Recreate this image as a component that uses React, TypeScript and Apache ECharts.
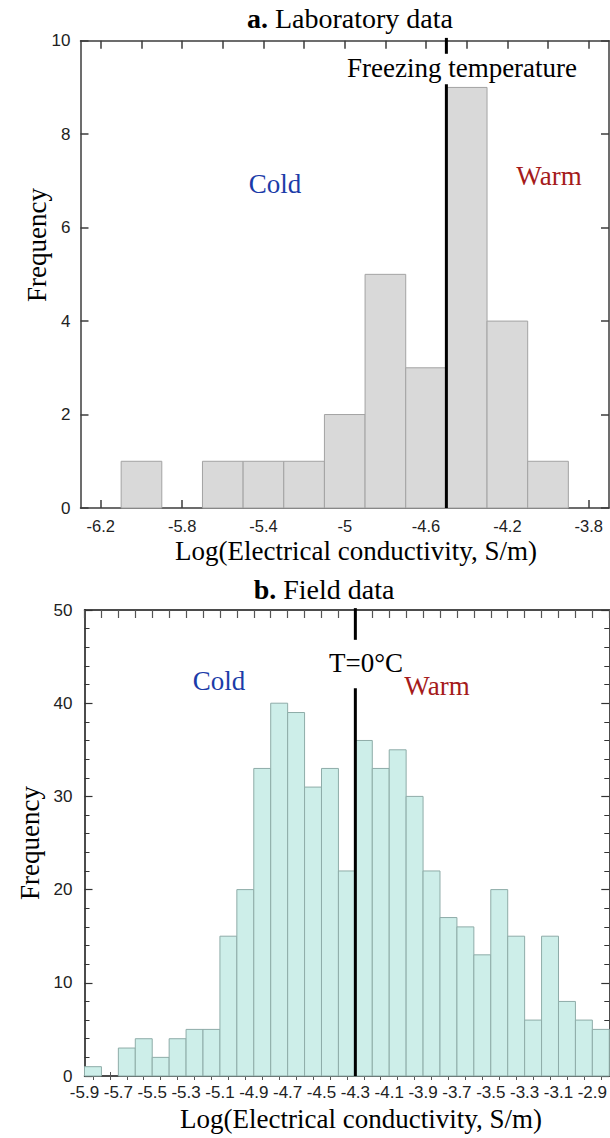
import React, { useEffect, useRef } from "react";
import * as echarts from "echarts";

// ---------- Panel a: laboratory data ----------
const LAB_EDGES = [-6.1, -5.9, -5.7, -5.5, -5.3, -5.1, -4.9, -4.7, -4.5, -4.3, -4.1, -3.9];
const LAB_COUNTS = [1, 0, 1, 1, 1, 2, 5, 3, 9, 4, 1];
const LAB_X_LABELS = [-6.2, -5.8, -5.4, -5, -4.6, -4.2, -3.8];
const LAB_X_TICKS = [-6.2, -6.0, -5.8, -5.6, -5.4, -5.2, -5.0, -4.8, -4.6, -4.4, -4.2, -4.0, -3.8];
const LAB_Y_TICKS = [0, 2, 4, 6, 8, 10];
const LAB_FREEZE = -4.5;

// ---------- Panel b: field data ----------
const FIELD_EDGES = [
  -5.9, -5.8, -5.7, -5.6, -5.5, -5.4, -5.3, -5.2, -5.1, -5.0, -4.9, -4.8, -4.7, -4.6, -4.5, -4.4,
  -4.3, -4.2, -4.1, -4.0, -3.9, -3.8, -3.7, -3.6, -3.5, -3.4, -3.3, -3.2, -3.1, -3.0, -2.9, -2.8,
];
const FIELD_COUNTS = [
  1, 0, 3, 4, 2, 4, 5, 5, 15, 20, 33, 40, 39, 31, 33, 22,
  36, 33, 35, 30, 22, 17, 16, 13, 20, 15, 6, 15, 8, 6, 5,
];
const FIELD_X_LABELS = [-5.9, -5.7, -5.5, -5.3, -5.1, -4.9, -4.7, -4.5, -4.3, -4.1, -3.9, -3.7, -3.5, -3.3, -3.1, -2.9];
const FIELD_Y_TICKS = [0, 10, 20, 30, 40, 50];
const FIELD_FREEZE = -4.3;

const SERIF = "'Liberation Serif', 'Times New Roman', serif";
const SANS = "'Liberation Sans', Arial, sans-serif";

const binCenters = (edges: number[]) =>
  edges.slice(0, -1).map((e, i) => Math.round(((e + edges[i + 1]) / 2) * 1000) / 1000);

const histData = (edges: number[], counts: number[]) =>
  counts.map((c, i) => [edges[i], edges[i + 1], c]);

function histSeries(gridIdx: number, edges: number[], counts: number[], fill: string, stroke: string) {
  return {
    type: "custom",
    xAxisIndex: gridIdx,
    yAxisIndex: gridIdx,
    data: histData(edges, counts),
    encode: { x: [0, 1], y: 2 },
    renderItem: (params: any, api: any) => {
      const x0 = api.value(0);
      const x1 = api.value(1);
      const v = api.value(2);
      if (!v) return null;
      const p0 = api.coord([x0, v]);
      const p1 = api.coord([x1, 0]);
      return {
        type: "rect",
        shape: { x: p0[0], y: p0[1], width: p1[0] - p0[0], height: p1[1] - p0[1] },
        style: { fill, stroke, lineWidth: 1 },
      };
    },
    z: 2,
  };
}

function lineSeries(gridIdx: number, segs: number[][]) {
  return {
    type: "custom",
    xAxisIndex: gridIdx,
    yAxisIndex: gridIdx,
    data: segs,
    encode: { x: 0, y: [1, 2] },
    renderItem: (params: any, api: any) => {
      const p0 = api.coord([api.value(0), api.value(1)]);
      const p1 = api.coord([api.value(0), api.value(2)]);
      return {
        type: "line",
        shape: { x1: p0[0], y1: p0[1], x2: p1[0], y2: p1[1] },
        style: { stroke: "#000", lineWidth: 3 },
      };
    },
    z: 5,
  };
}

function txt(x: number, y: number, text: string, size: number, fill: string, extra: any = {}) {
  return {
    type: "text",
    x,
    y,
    ...extra,
    style: {
      text,
      x: 0,
      y: 0,
      align: "center",
      verticalAlign: "middle",
      fontFamily: SERIF,
      fontSize: size,
      fill,
      ...(extra.style || {}),
    },
  };
}

export default function App() {
  const ref = useRef<HTMLDivElement>(null);

  useEffect(() => {
    if (!ref.current) return;
    const chart = echarts.init(ref.current, null, { renderer: "svg" });
    const axisColor = "#3c3c3c";
    const labFieldCenters = binCenters(FIELD_EDGES);

    const option: any = {
      animation: false,
      backgroundColor: "#fff",
      grid: [
        { left: 80.5, top: 40.7, width: 528.5, height: 467.3 },
        { left: 84.5, top: 610, width: 527, height: 466 },
      ],
      xAxis: [
        {
          gridIndex: 0,
          type: "value",
          min: -6.3,
          max: -3.7,
          position: "bottom",
          splitLine: { show: false },
          axisLine: { onZero: false, lineStyle: { color: axisColor, width: 1.5 } },
          axisTick: { inside: true, length: 8, customValues: LAB_X_TICKS, lineStyle: { color: axisColor, width: 1.5 } },
          axisLabel: { customValues: LAB_X_LABELS, margin: 9, fontFamily: SANS, fontSize: 16.5, color: "#222" },
        },
        {
          gridIndex: 1,
          type: "value",
          min: -5.9,
          max: -2.8,
          position: "bottom",
          splitLine: { show: false },
          axisLine: { onZero: false, lineStyle: { color: "#111", width: 1.5 } },
          axisTick: { inside: true, length: 4, customValues: labFieldCenters, lineStyle: { color: "#555", width: 1 } },
          axisLabel: { customValues: FIELD_X_LABELS, margin: 8, fontFamily: SANS, fontSize: 17, color: "#222" },
        },
        {
          gridIndex: 0,
          type: "value",
          min: -6.3,
          max: -3.7,
          position: "top",
          splitLine: { show: false },
          axisLine: { onZero: false, lineStyle: { color: axisColor, width: 1.5 } },
          axisTick: { inside: true, length: 8, customValues: LAB_X_TICKS, lineStyle: { color: axisColor, width: 1.5 } },
          axisLabel: { show: false },
        },
        {
          gridIndex: 1,
          type: "value",
          min: -5.9,
          max: -2.8,
          position: "top",
          splitLine: { show: false },
          axisLine: { onZero: false, lineStyle: { color: "#111", width: 1.5 } },
          axisTick: { inside: true, length: 8, customValues: FIELD_EDGES, lineStyle: { color: "#555", width: 1.2 } },
          axisLabel: { show: false },
        },
        {
          gridIndex: 1,
          type: "value",
          min: -5.9,
          max: -2.8,
          position: "top",
          splitLine: { show: false },
          axisLine: { show: false },
          axisTick: { inside: true, length: 4, customValues: labFieldCenters, lineStyle: { color: "#555", width: 1 } },
          axisLabel: { show: false },
        },
      ],
      yAxis: [
        {
          gridIndex: 0,
          type: "value",
          min: 0,
          max: 10,
          interval: 2,
          position: "left",
          splitLine: { show: false },
          axisLine: { show: true, onZero: false, lineStyle: { color: axisColor, width: 1.5 } },
          axisTick: { show: true, inside: true, length: 8, lineStyle: { color: axisColor, width: 1.5 } },
          axisLabel: { margin: 10, fontFamily: SANS, fontSize: 17, color: "#222", customValues: LAB_Y_TICKS },
        },
        {
          gridIndex: 1,
          type: "value",
          min: 0,
          max: 50,
          interval: 10,
          position: "left",
          splitLine: { show: false },
          axisLine: { show: true, onZero: false, lineStyle: { color: "#111", width: 1.5 } },
          axisTick: { show: true, inside: true, length: 8, lineStyle: { color: "#333", width: 1.2 } },
          minorTick: { show: true, splitNumber: 5, length: 5, lineStyle: { color: "#333", width: 1 } },
          axisLabel: { margin: 12, fontFamily: SANS, fontSize: 17, color: "#222", customValues: FIELD_Y_TICKS },
        },
        {
          gridIndex: 0,
          type: "value",
          min: 0,
          max: 10,
          interval: 2,
          position: "right",
          splitLine: { show: false },
          axisLine: { show: true, onZero: false, lineStyle: { color: axisColor, width: 1.5 } },
          axisTick: { show: true, inside: true, length: 8, lineStyle: { color: axisColor, width: 1.5 } },
          axisLabel: { show: false },
        },
        {
          gridIndex: 1,
          type: "value",
          min: 0,
          max: 50,
          interval: 10,
          position: "right",
          splitLine: { show: false },
          axisLine: { show: true, onZero: false, lineStyle: { color: "#111", width: 1.5 } },
          axisTick: { show: true, inside: true, length: 8, lineStyle: { color: "#333", width: 1.2 } },
          minorTick: { show: true, splitNumber: 5, length: 5, lineStyle: { color: "#333", width: 1 } },
          axisLabel: { show: false },
        },
      ],
      series: [
        histSeries(0, LAB_EDGES, LAB_COUNTS, "#d9d9d9", "#a3a3a3"),
        histSeries(1, FIELD_EDGES, FIELD_COUNTS, "#cdeee9", "#8eaca8"),
        lineSeries(0, [
          [LAB_FREEZE, 0, 9.07],
          [LAB_FREEZE, 9.72, 10.06],
        ]),
        lineSeries(1, [
          [FIELD_FREEZE, 0, 41.6],
          [FIELD_FREEZE, 46.8, 50.2],
        ]),
      ],
      graphic: [
        txt(350, 18, "{b|a.} Laboratory data", 28, "#000", {
          style: { rich: { b: { fontFamily: SERIF, fontSize: 28, fontWeight: "bold", fill: "#000" } } },
        }),
        txt(324, 589, "{b|b.} Field data", 28, "#000", {
          style: { rich: { b: { fontFamily: SERIF, fontSize: 28, fontWeight: "bold", fill: "#000" } } },
        }),
        txt(462, 68, "Freezing temperature", 27, "#000"),
        txt(275, 184, "Cold", 27, "#1b3ba8"),
        txt(549, 176, "Warm", 27, "#a51b1b"),
        txt(366, 663, "T=0\u00B0C", 27, "#000"),
        txt(219, 681, "Cold", 27, "#1b3ba8"),
        txt(437, 686, "Warm", 27, "#a51b1b"),
        txt(356, 551, "Log(Electrical conductivity, S/m)", 27, "#000"),
        txt(361, 1119, "Log(Electrical conductivity, S/m)", 27, "#000"),
        txt(37, 245, "Frequency", 27, "#000", { rotation: Math.PI / 2 }),
        txt(30, 843, "Frequency", 27, "#000", { rotation: Math.PI / 2 }),
      ],
    };

    chart.setOption(option);
    return () => chart.dispose();
  }, []);

  return (
    <div
      ref={ref}
      style={{ position: "absolute", left: 0, top: 0, width: 610, height: 1138 }}
    />
  );
}
